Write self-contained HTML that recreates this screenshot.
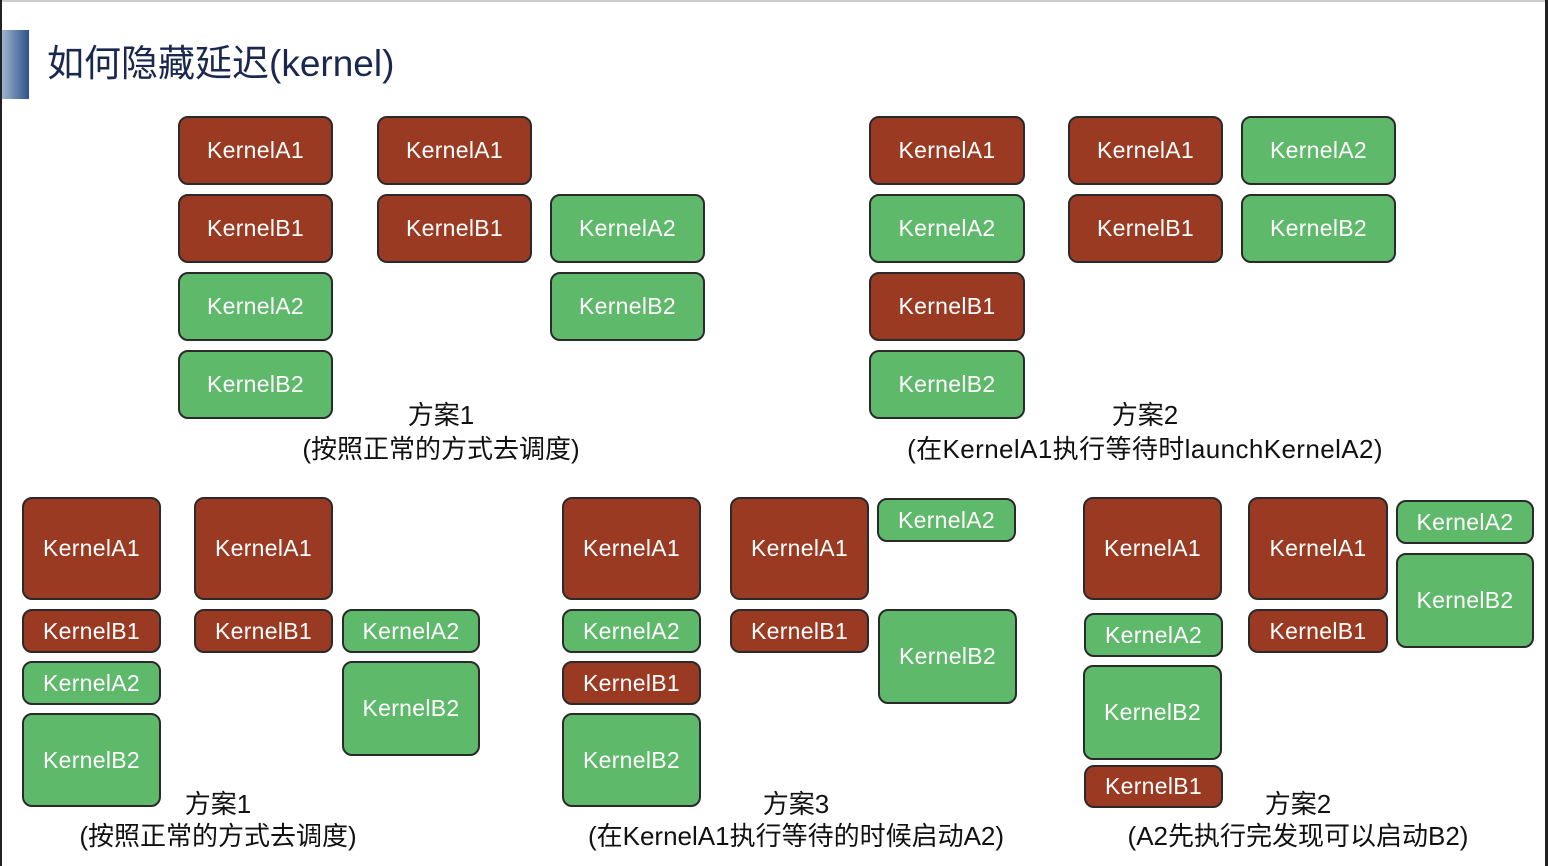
<!DOCTYPE html>
<html><head><meta charset="utf-8"><style>
body{margin:0;width:1548px;height:866px;background:#fff;position:relative;overflow:hidden;font-family:"Liberation Sans","Noto Sans CJK SC",sans-serif}
.b{position:absolute;box-sizing:border-box;border:2px solid #2a2a2a;border-radius:10px;color:#fff;font-size:23px;display:flex;align-items:center;justify-content:center;letter-spacing:0.3px}
.r{background:#9b3a22}
.g{background:#5fb96b}
.t{position:absolute;font-size:26px;color:#111;text-align:center;white-space:nowrap;transform:translateX(-50%);line-height:32px}
</style></head><body>
<div style="position:absolute;left:0;top:0;width:1548px;height:2px;background:#ccc"></div>
<div style="position:absolute;left:0;top:0;width:2px;height:866px;background:#222"></div>
<div style="position:absolute;right:0;top:0;width:3px;height:866px;background:#222"></div>
<div style="position:absolute;left:2px;top:30px;width:27px;height:69px;background:linear-gradient(90deg,#9fb4cf,#2d5289)"></div>
<div style="position:absolute;left:47px;top:40px;font-size:37px;color:#1a2850;line-height:48px">如何隐藏延迟(kernel)</div>

<div class="b r" style="left:178px;top:116px;width:155px;height:69px">KernelA1</div>
<div class="b r" style="left:178px;top:194px;width:155px;height:69px">KernelB1</div>
<div class="b g" style="left:178px;top:272px;width:155px;height:69px">KernelA2</div>
<div class="b g" style="left:178px;top:350px;width:155px;height:69px">KernelB2</div>
<div class="b r" style="left:377px;top:116px;width:155px;height:69px">KernelA1</div>
<div class="b r" style="left:377px;top:194px;width:155px;height:69px">KernelB1</div>
<div class="b g" style="left:550px;top:194px;width:155px;height:69px">KernelA2</div>
<div class="b g" style="left:550px;top:272px;width:155px;height:69px">KernelB2</div>
<div class="t" style="left:441px;top:399px">方案1</div>
<div class="t" style="left:441px;top:433px">(按照正常的方式去调度)</div>

<div class="b r" style="left:869px;top:116px;width:156px;height:69px">KernelA1</div>
<div class="b g" style="left:869px;top:194px;width:156px;height:69px">KernelA2</div>
<div class="b r" style="left:869px;top:272px;width:156px;height:69px">KernelB1</div>
<div class="b g" style="left:869px;top:350px;width:156px;height:69px">KernelB2</div>
<div class="b r" style="left:1068px;top:116px;width:155px;height:69px">KernelA1</div>
<div class="b r" style="left:1068px;top:194px;width:155px;height:69px">KernelB1</div>
<div class="b g" style="left:1241px;top:116px;width:155px;height:69px">KernelA2</div>
<div class="b g" style="left:1241px;top:194px;width:155px;height:69px">KernelB2</div>
<div class="t" style="left:1145px;top:399px">方案2</div>
<div class="t" style="left:1145px;top:433px;letter-spacing:0.4px">(在KernelA1执行等待时launchKernelA2)</div>

<div class="b r" style="left:22px;top:497px;width:139px;height:103px">KernelA1</div>
<div class="b r" style="left:22px;top:609px;width:139px;height:44px">KernelB1</div>
<div class="b g" style="left:22px;top:661px;width:139px;height:44px">KernelA2</div>
<div class="b g" style="left:22px;top:713px;width:139px;height:94px">KernelB2</div>
<div class="b r" style="left:194px;top:497px;width:139px;height:103px">KernelA1</div>
<div class="b r" style="left:194px;top:609px;width:139px;height:44px">KernelB1</div>
<div class="b g" style="left:342px;top:609px;width:138px;height:44px">KernelA2</div>
<div class="b g" style="left:342px;top:661px;width:138px;height:95px">KernelB2</div>
<div class="t" style="left:218px;top:788px">方案1</div>
<div class="t" style="left:218px;top:820px">(按照正常的方式去调度)</div>

<div class="b r" style="left:562px;top:497px;width:139px;height:103px">KernelA1</div>
<div class="b g" style="left:562px;top:609px;width:139px;height:44px">KernelA2</div>
<div class="b r" style="left:562px;top:661px;width:139px;height:44px">KernelB1</div>
<div class="b g" style="left:562px;top:713px;width:139px;height:94px">KernelB2</div>
<div class="b r" style="left:730px;top:497px;width:139px;height:103px">KernelA1</div>
<div class="b r" style="left:730px;top:609px;width:139px;height:44px">KernelB1</div>
<div class="b g" style="left:877px;top:498px;width:139px;height:44px">KernelA2</div>
<div class="b g" style="left:878px;top:609px;width:139px;height:95px">KernelB2</div>
<div class="t" style="left:796px;top:788px">方案3</div>
<div class="t" style="left:796px;top:820px">(在KernelA1执行等待的时候启动A2)</div>

<div class="b r" style="left:1083px;top:497px;width:139px;height:103px">KernelA1</div>
<div class="b g" style="left:1084px;top:613px;width:139px;height:44px">KernelA2</div>
<div class="b g" style="left:1083px;top:665px;width:139px;height:95px">KernelB2</div>
<div class="b r" style="left:1084px;top:765px;width:139px;height:43px">KernelB1</div>
<div class="b r" style="left:1248px;top:497px;width:140px;height:103px">KernelA1</div>
<div class="b r" style="left:1248px;top:609px;width:140px;height:44px">KernelB1</div>
<div class="b g" style="left:1396px;top:500px;width:138px;height:44px">KernelA2</div>
<div class="b g" style="left:1396px;top:553px;width:138px;height:95px">KernelB2</div>
<div class="t" style="left:1298px;top:788px">方案2</div>
<div class="t" style="left:1298px;top:820px">(A2先执行完发现可以启动B2)</div>
</body></html>
